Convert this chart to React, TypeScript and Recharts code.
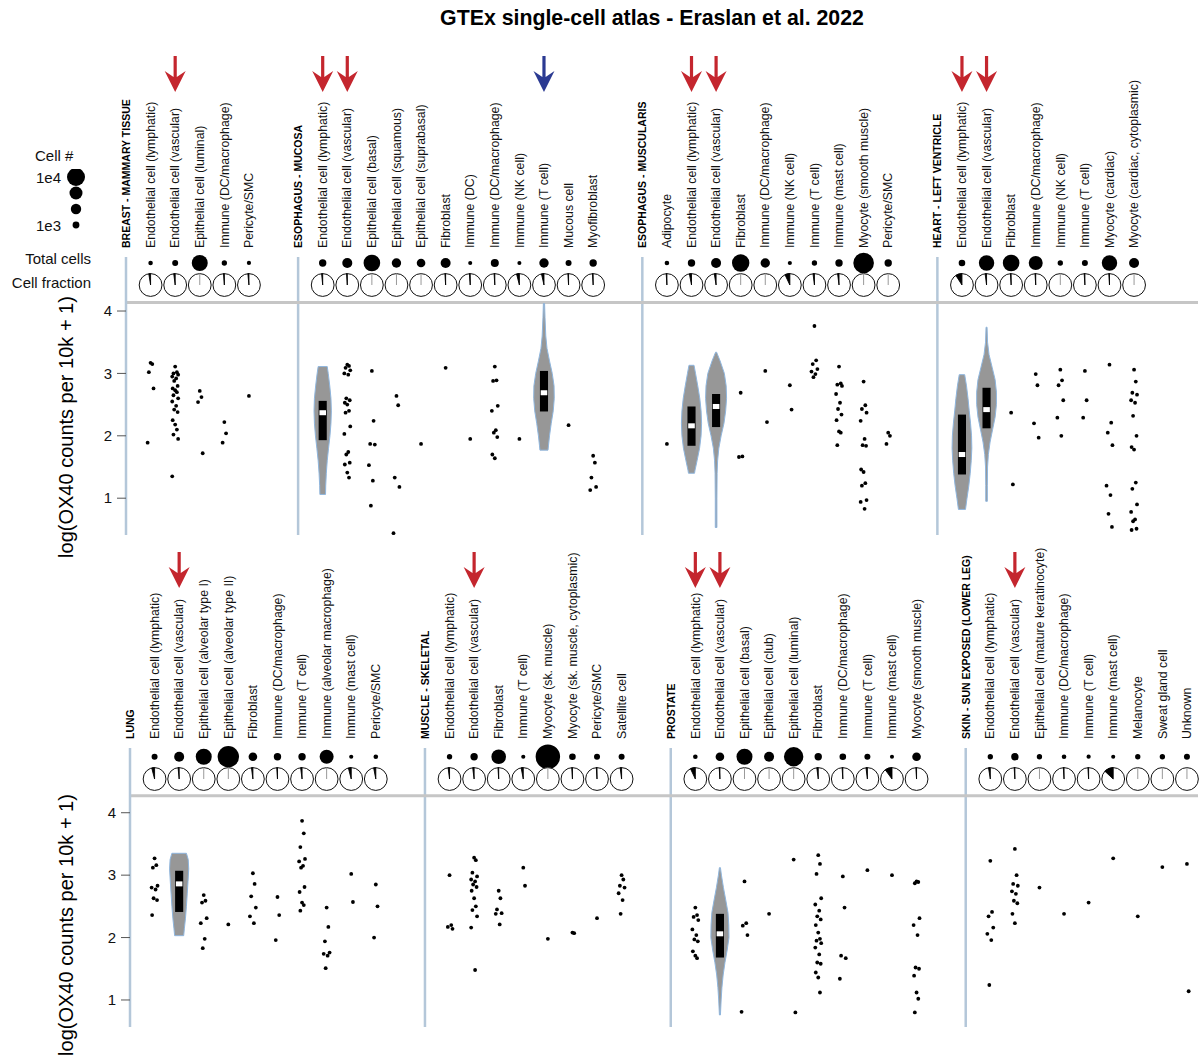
import React from 'react';
import { ScatterChart, Scatter, XAxis, YAxis, ZAxis, ReferenceLine } from 'recharts';

const FONT = '"Liberation Sans", Arial, Helvetica, sans-serif';
const AXIS_BLUE = '#b4c7d9';
const RED = '#c4262e';
const BLUE = '#2b3a92';

// ---------------- Row 1 ----------------
const breastCells = ['Endothelial cell (lymphatic)', 'Endothelial cell (vascular)', 'Epithelial cell (luminal)', 'Immune (DC/macrophage)', 'Pericyte/SMC'];
const breastCounts = [150, 650, 7800, 400, 60];
const breastFractions = [0.025, 0.02, 0.004, 0.012, 0.015];
const breastArrows = ['', 'red', '', '', ''];
const breastValues = [
  [3.17, 3.15, 3.02, 2.76, 1.89],
  [3.11, 3.02, 3.0, 2.98, 2.95, 2.92, 2.88, 2.8, 2.76, 2.73, 2.7, 2.65, 2.6, 2.55, 2.48, 2.42, 2.38, 2.25, 2.18, 2.1, 2.02, 1.95, 1.35],
  [2.72, 2.62, 2.54, 1.72],
  [2.22, 2.04, 1.89],
  [2.64],
];

const mucosaCells = ['Endothelial cell (lymphatic)', 'Endothelial cell (vascular)', 'Epithelial cell (basal)', 'Epithelial cell (squamous)', 'Epithelial cell (suprabasal)', 'Fibroblast', 'Immune (DC)', 'Immune (DC/macrophage)', 'Immune (NK cell)', 'Immune (T cell)', 'Mucous cell', 'Myofibroblast'];
const mucosaCounts = [1250, 2730, 8500, 2350, 1900, 2730, 30, 1560, 20, 2350, 650, 1250];
const mucosaFractions = [0.015, 0.01, 0.003, 0.005, 0.005, 0.01, 0.012, 0.01, 0.04, 0.035, 0.01, 0.01];
const mucosaArrows = ['red', 'red', '', '', '', '', '', '', '', 'blue', '', ''];
const mucosaValues = [
  [],
  [3.14, 3.12, 3.09, 3.05, 3.0, 2.98, 2.6, 2.57, 2.53, 2.5, 2.4, 2.37, 2.15, 2.03, 1.74, 1.7, 1.57, 1.54, 1.41, 1.33],
  [3.04, 2.24, 1.87, 1.86, 1.53, 1.28, 0.88],
  [2.64, 2.49, 1.33, 1.18, 0.44],
  [1.87],
  [3.09],
  [1.95],
  [3.11, 2.89, 2.88, 2.48, 2.4, 2.09, 2.05, 1.98, 1.7, 1.64],
  [1.95],
  [],
  [2.17],
  [1.68, 1.57, 1.33, 1.18, 1.13],
];
const mucosaViolins = [
  { cell: 0, q1: 1.93, med: 2.37, q3: 2.56, profile: [[3.11, 0.45], [3.0, 0.55], [2.8, 0.7], [2.6, 0.82], [2.4, 0.86], [2.2, 0.82], [2.0, 0.72], [1.8, 0.58], [1.6, 0.45], [1.4, 0.36], [1.2, 0.3], [1.06, 0.28]] },
  { cell: 9, q1: 2.39, med: 2.69, q3: 3.04, profile: [[4.12, 0.06], [3.9, 0.1], [3.6, 0.18], [3.4, 0.3], [3.2, 0.55], [3.0, 0.82], [2.8, 1.0], [2.6, 1.02], [2.4, 0.92], [2.2, 0.72], [2.0, 0.55], [1.85, 0.45], [1.77, 0.4]] },
];

const muscularisCells = ['Adipocyte', 'Endothelial cell (lymphatic)', 'Endothelial cell (vascular)', 'Fibroblast', 'Immune (DC/macrophage)', 'Immune (NK cell)', 'Immune (T cell)', 'Immune (mast cell)', 'Myocyte (smooth muscle)', 'Pericyte/SMC'];
const muscularisCounts = [170, 1250, 2730, 9300, 2350, 40, 400, 1250, 13300, 1250];
const muscularisFractions = [0.01, 0.03, 0.025, 0.003, 0.006, 0.07, 0.02, 0.02, 0.003, 0.006];
const muscularisArrows = ['', 'red', 'red', '', '', '', '', '', '', ''];
const muscularisValues = [
  [1.87],
  [],
  [],
  [2.69, 1.67, 1.66],
  [3.04, 2.22],
  [2.81, 2.42],
  [3.76, 3.21, 3.15, 3.07, 3.03, 2.99, 2.94],
  [3.11, 2.84, 2.82, 2.8, 2.67, 2.53, 2.43, 2.34, 2.25, 2.07, 2.05, 1.85],
  [2.87, 2.49, 2.43, 2.37, 2.24, 1.95, 1.85, 1.84, 1.46, 1.42, 1.24, 1.2, 0.97, 0.94, 0.83],
  [2.05, 2.0, 1.87],
];
const muscularisViolins = [
  { cell: 1, q1: 1.84, med: 2.16, q3: 2.47, profile: [[3.13, 0.25], [3.0, 0.4], [2.8, 0.62], [2.6, 0.82], [2.4, 0.95], [2.2, 1.0], [2.0, 0.95], [1.8, 0.8], [1.6, 0.55], [1.45, 0.35], [1.4, 0.3]] },
  { cell: 2, q1: 2.14, med: 2.47, q3: 2.67, profile: [[3.34, 0.05], [3.2, 0.4], [3.0, 0.82], [2.8, 1.0], [2.6, 1.04], [2.4, 0.95], [2.2, 0.78], [2.0, 0.5], [1.8, 0.27], [1.6, 0.15], [1.4, 0.1], [1.0, 0.08], [0.53, 0.08]] },
];

const heartCells = ['Endothelial cell (lymphatic)', 'Endothelial cell (vascular)', 'Fibroblast', 'Immune (DC/macrophage)', 'Immune (NK cell)', 'Immune (T cell)', 'Myocyte (cardiac)', 'Myocyte (cardiac, cytoplasmic)'];
const heartCounts = [900, 7200, 8500, 5850, 400, 650, 7200, 2730];
const heartFractions = [0.09, 0.02, 0.01, 0.01, 0.006, 0.01, 0.01, 0.006];
const heartArrows = ['red', 'red', '', '', '', '', '', ''];
const heartValues = [
  [],
  [],
  [2.37, 1.22],
  [2.99, 2.81, 2.2, 1.97],
  [3.06, 2.89, 2.81, 2.57, 2.29, 2.0],
  [3.04, 2.57, 2.29],
  [3.14, 2.21, 2.05, 1.85, 1.2, 1.05, 0.75, 0.54],
  [3.06, 2.87, 2.69, 2.66, 2.57, 2.53, 2.32, 2.0, 1.82, 1.78, 1.25, 1.15, 0.9, 0.78, 0.66, 0.63, 0.51, 0.49],
];
const heartViolins = [
  { cell: 0, q1: 1.38, med: 1.7, q3: 2.34, profile: [[2.98, 0.27], [2.8, 0.45], [2.6, 0.6], [2.4, 0.72], [2.2, 0.85], [2.0, 0.95], [1.8, 0.98], [1.6, 0.92], [1.4, 0.82], [1.2, 0.68], [1.0, 0.5], [0.82, 0.35]] },
  { cell: 1, q1: 2.12, med: 2.42, q3: 2.77, profile: [[3.74, 0.05], [3.5, 0.1], [3.3, 0.25], [3.1, 0.55], [2.9, 0.85], [2.7, 0.98], [2.5, 0.98], [2.3, 0.85], [2.1, 0.6], [1.9, 0.35], [1.7, 0.18], [1.5, 0.1], [1.2, 0.08], [0.95, 0.08]] },
];

// ---------------- Row 2 ----------------
const lungCells = ['Endothelial cell (lymphatic)', 'Endothelial cell (vascular)', 'Epithelial cell (alveolar type I)', 'Epithelial cell (alveolar type II)', 'Fibroblast', 'Immune (DC/macrophage)', 'Immune (T cell)', 'Immune (alveolar macrophage)', 'Immune (mast cell)', 'Pericyte/SMC'];
const lungCounts = [650, 2730, 7800, 14400, 1900, 1250, 1250, 5850, 40, 170];
const lungFractions = [0.04, 0.015, 0.005, 0.003, 0.02, 0.01, 0.02, 0.005, 0.04, 0.03];
const lungArrows = ['', 'red', '', '', '', '', '', '', '', ''];
const lungValues = [
  [3.27, 3.16, 3.12, 2.83, 2.8, 2.77, 2.63, 2.6, 2.36],
  [],
  [2.68, 2.59, 2.56, 2.31, 2.23, 1.98, 1.83],
  [2.21],
  [3.03, 2.86, 2.66, 2.48, 2.34, 2.23],
  [2.65, 2.36, 1.96],
  [3.87, 3.67, 3.45, 3.26, 3.22, 3.15, 3.12, 2.81, 2.73, 2.56, 2.52, 2.43],
  [2.48, 2.17, 1.94, 1.76, 1.74, 1.71, 1.51],
  [3.02, 2.57],
  [2.85, 2.5, 2.0],
];
const lungViolins = [
  { cell: 1, q1: 2.41, med: 2.86, q3: 3.07, profile: [[3.35, 0.72], [3.25, 0.9], [3.1, 0.95], [2.9, 0.88], [2.7, 0.8], [2.5, 0.72], [2.3, 0.62], [2.15, 0.52], [2.03, 0.45]] },
];

const muscleCells = ['Endothelial cell (lymphatic)', 'Endothelial cell (vascular)', 'Fibroblast', 'Immune (T cell)', 'Myocyte (sk. muscle)', 'Myocyte (sk. muscle, cytoplasmic)', 'Pericyte/SMC', 'Satellite cell'];
const muscleCounts = [400, 1250, 6400, 40, 19000, 900, 650, 650];
const muscleFractions = [0.02, 0.02, 0.01, 0.03, 0.003, 0.01, 0.01, 0.02];
const muscleArrows = ['', 'red', '', '', '', '', '', ''];
const muscleValues = [
  [3.0, 2.2, 2.17, 2.14],
  [3.28, 3.24, 3.04, 2.98, 2.93, 2.9, 2.85, 2.81, 2.75, 2.63, 2.5, 2.44, 2.34, 2.16, 1.48],
  [2.75, 2.63, 2.45, 2.39, 2.38, 2.21],
  [3.12, 2.83],
  [1.98],
  [2.08, 2.07],
  [2.31],
  [3.0, 2.93, 2.83, 2.8, 2.71, 2.6, 2.38],
];

const prostateCells = ['Endothelial cell (lymphatic)', 'Endothelial cell (vascular)', 'Epithelial cell (basal)', 'Epithelial cell (club)', 'Epithelial cell (luminal)', 'Fibroblast', 'Immune (DC/macrophage)', 'Immune (T cell)', 'Immune (mast cell)', 'Myocyte (smooth muscle)'];
const prostateCounts = [170, 1900, 7800, 2730, 11700, 1250, 900, 650, 20, 1900];
const prostateFractions = [0.07, 0.01, 0.003, 0.003, 0.003, 0.02, 0.01, 0.02, 0.1, 0.01];
const prostateArrows = ['red', 'red', '', '', '', '', '', '', '', ''];
const prostateValues = [
  [2.48, 2.36, 2.33, 2.28, 2.13, 2.04, 1.97, 1.94, 1.78, 1.71, 1.67],
  [],
  [2.9, 2.23, 2.19, 2.04, 0.81],
  [2.38],
  [3.25, 0.8],
  [3.32, 3.18, 3.02, 2.63, 2.53, 2.43, 2.34, 2.29, 2.2, 2.08, 1.98, 1.95, 1.91, 1.84, 1.73, 1.6, 1.58, 1.44, 1.36, 1.12],
  [2.98, 2.48, 1.71, 1.67, 1.34],
  [3.08],
  [3.0],
  [2.9, 2.89, 2.87, 2.31, 2.2, 2.04, 1.52, 1.5, 1.39, 1.12, 1.02, 0.8],
];
const prostateViolins = [
  { cell: 1, q1: 1.68, med: 2.06, q3: 2.38, profile: [[3.12, 0.05], [3.0, 0.15], [2.8, 0.35], [2.6, 0.58], [2.4, 0.8], [2.2, 0.88], [2.0, 0.9], [1.8, 0.72], [1.6, 0.5], [1.4, 0.32], [1.2, 0.2], [1.0, 0.12], [0.76, 0.05]] },
];

const skinCells = ['Endothelial cell (lymphatic)', 'Endothelial cell (vascular)', 'Epithelial cell (mature keratinocyte)', 'Immune (DC/macrophage)', 'Immune (T cell)', 'Immune (mast cell)', 'Melanocyte', 'Sweat gland cell', 'Unknown'];
const skinCounts = [400, 1250, 400, 170, 60, 20, 400, 400, 650];
const skinFractions = [0.025, 0.01, 0.004, 0.01, 0.01, 0.13, 0.005, 0.004, 0.004];
const skinArrows = ['', 'red', '', '', '', '', '', '', ''];
const skinValues = [
  [3.23, 2.41, 2.34, 2.16, 2.06, 1.96, 1.24],
  [3.42, 3.0, 2.86, 2.83, 2.74, 2.7, 2.59, 2.55, 2.38, 2.23],
  [2.8],
  [2.38],
  [2.56],
  [3.27],
  [2.34],
  [3.13],
  [3.18, 1.14],
];

const legendCounts = [10000, 5000, 3000, 1000];
const yTickValues = [1, 2, 3, 4];

// ---------------- Assembly ----------------
type Violin = { cell: number; q1: number; med: number; q3: number; profile: number[][] };
type Panel = { title: string; start: number; cells: string[]; counts: number[]; fractions: number[]; arrows: string[]; values: number[][]; violins: Violin[] };

const row1Panels: Panel[] = [
  { title: 'BREAST - MAMMARY TISSUE', start: 0, cells: breastCells, counts: breastCounts, fractions: breastFractions, arrows: breastArrows, values: breastValues, violins: [] },
  { title: 'ESOPHAGUS - MUCOSA', start: 7, cells: mucosaCells, counts: mucosaCounts, fractions: mucosaFractions, arrows: mucosaArrows, values: mucosaValues, violins: mucosaViolins },
  { title: 'ESOPHAGUS - MUSCULARIS', start: 21, cells: muscularisCells, counts: muscularisCounts, fractions: muscularisFractions, arrows: muscularisArrows, values: muscularisValues, violins: muscularisViolins },
  { title: 'HEART - LEFT VENTRICLE', start: 33, cells: heartCells, counts: heartCounts, fractions: heartFractions, arrows: heartArrows, values: heartValues, violins: heartViolins },
];
const row2Panels: Panel[] = [
  { title: 'LUNG', start: 0, cells: lungCells, counts: lungCounts, fractions: lungFractions, arrows: lungArrows, values: lungValues, violins: lungViolins },
  { title: 'MUSCLE - SKELETAL', start: 12, cells: muscleCells, counts: muscleCounts, fractions: muscleFractions, arrows: muscleArrows, values: muscleValues, violins: [] },
  { title: 'PROSTATE', start: 22, cells: prostateCells, counts: prostateCounts, fractions: prostateFractions, arrows: prostateArrows, values: prostateValues, violins: prostateViolins },
  { title: 'SKIN - SUN EXPOSED (LOWER LEG)', start: 34, cells: skinCells, counts: skinCounts, fractions: skinFractions, arrows: skinArrows, values: skinValues, violins: [] },
];

const JITTER = [0, 0.07, -0.07, 0.12, -0.12, 0.04, -0.04, 0.1, -0.1];
const VIOLIN_HALF = 0.41;
const BOX_HALF = 0.165;

type TickInfo = { text: string; bold?: boolean; arrow?: string };

function buildRow(panels: Panel[], dotY: number, pieY: number) {
  const dots: any[] = [];
  const pies: any[] = [];
  const strips: any[] = [];
  const ticks: number[] = [];
  const info = new Map<number, TickInfo>();
  const violins: any[][] = [];
  const boxes: any[][] = [];
  const medians: any[] = [];
  panels.forEach((p) => {
    ticks.push(p.start);
    info.set(p.start, { text: p.title, bold: true });
    p.cells.forEach((c, i) => {
      const x = p.start + 1 + i;
      ticks.push(x);
      info.set(x, { text: c, arrow: p.arrows[i] });
      dots.push({ x, y: dotY, z: p.counts[i] });
      pies.push({ x, y: pieY, f: p.fractions[i] });
      p.values[i].forEach((v, k) => strips.push({ x: x + JITTER[k % JITTER.length], y: v }));
    });
    p.violins.forEach((vl) => {
      const x = p.start + 1 + vl.cell;
      const left = vl.profile.map(([v, d]) => ({ x: x - d * VIOLIN_HALF, y: v }));
      const right = [...vl.profile].reverse().map(([v, d]) => ({ x: x + d * VIOLIN_HALF, y: v }));
      violins.push([...left, ...right, left[0]]);
      boxes.push([
        { x: x - BOX_HALF, y: vl.q1 }, { x: x + BOX_HALF, y: vl.q1 },
        { x: x + BOX_HALF, y: vl.q3 }, { x: x - BOX_HALF, y: vl.q3 }, { x: x - BOX_HALF, y: vl.q1 },
      ]);
      medians.push({ x, y: vl.med });
    });
  });
  return { dots, pies, strips, ticks, info, violins, boxes, medians, seps: panels.map((p) => p.start).filter((s) => s > 0) };
}

const Empty = () => <g />;
const StripDot = (p: any) => <circle cx={p.cx} cy={p.cy} r={1.9} fill="#000" />;
const MedianMark = (p: any) => <rect x={p.cx - 3.3} y={p.cy - 2.5} width={6.6} height={5} fill="#fff" />;
const PIE_R = 11.4;
const PieMark = (p: any) => {
  const { cx, cy, payload } = p;
  const f = payload.f;
  const a = f * 2 * Math.PI;
  const ex = cx - PIE_R * Math.sin(a);
  const ey = cy - PIE_R * Math.cos(a);
  return (
    <g>
      <circle cx={cx} cy={cy} r={PIE_R} fill="#fff" stroke="#111" strokeWidth={1} />
      {f >= 0.008 ? (
        <path d={`M${cx},${cy} L${cx},${cy - PIE_R} A${PIE_R},${PIE_R} 0 ${a > Math.PI ? 1 : 0} 0 ${ex},${ey} Z`} fill="#000" stroke="#000" strokeWidth={0.9} />
      ) : (
        <line x1={cx} y1={cy} x2={cx} y2={cy - PIE_R} stroke="#999" strokeWidth={1} />
      )}
    </g>
  );
};

const arrowPath = (x: number, t: number) =>
  `M${x - 1.6},${t - 36} L${x + 1.6},${t - 36} L${x + 1.6},${t - 15} L${x + 10.5},${t - 21} L${x},${t} L${x - 10.5},${t - 21} L${x - 1.6},${t - 15} Z`;

const makeXTick = (info: Map<number, TickInfo>, arrowTip: number) => (props: any) => {
  const { x, y, payload } = props;
  const item = info.get(payload.value);
  if (!item) return <g />;
  if (item.bold) {
    const bx = x + 3.8;
    return (
      <text x={bx} y={y} transform={`rotate(-90 ${bx} ${y})`} textAnchor="start" fontSize={10.5} fontWeight="bold" fontFamily={FONT} fill="#000">
        {item.text}
      </text>
    );
  }
  const bx = x + 4.2;
  return (
    <g>
      <text x={bx} y={y} transform={`rotate(-90 ${bx} ${y})`} textAnchor="start" fontSize={12.3} fontFamily={FONT} fill="#111">
        {item.text}
      </text>
      {item.arrow ? <path d={arrowPath(x, arrowTip)} fill={item.arrow === 'blue' ? BLUE : RED} /> : null}
    </g>
  );
};

type Extra = { v: number; text: string; dy: number };
const makeYTick = (extras: Extra[]) => (props: any) => {
  const { x, y, payload } = props;
  const v = payload.value;
  const lab = extras.find((e) => Math.abs(e.v - v) < 1e-6);
  if (lab) {
    return (
      <text x={x - 35} y={y + lab.dy} textAnchor="end" fontSize={15} fontFamily={FONT} fill="#111">
        {lab.text}
      </text>
    );
  }
  return (
    <g>
      <line x1={x - 9} x2={x} y1={y} y2={y} stroke="#555" strokeWidth={1} />
      <text x={x - 14} y={y + 5.3} textAnchor="end" fontSize={15} fontFamily={FONT} fill="#111">
        {v}
      </text>
    </g>
  );
};

type RowCfg = {
  panels: Panel[]; domainX: number[]; domainY: number[]; dotY: number; pieY: number; lineY: number;
  arrowTip: number; top: number; height: number; margin: any; extras: Extra[];
};

const rows: RowCfg[] = [
  {
    panels: row1Panels, domainX: [0, 43.6], domainY: [0.41, 4.866], dotY: 4.77, pieY: 4.417, lineY: 4.135,
    arrowTip: 92, top: 0, height: 545, margin: { top: 227, right: 5, bottom: 10, left: 66 },
    extras: [{ v: 4.77, text: 'Total cells', dy: 1 }, { v: 4.417, text: 'Cell fraction', dy: 2.5 }],
  },
  {
    panels: row2Panels, domainX: [0, 43.45], domainY: [0.567, 5.037], dotY: 4.897, pieY: 4.54, lineY: 4.27,
    arrowTip: 48, top: 540, height: 516, margin: { top: 178, right: 5, bottom: 29, left: 70 },
    extras: [],
  },
];

function RowChart({ row }: { row: RowCfg }) {
  const b = buildRow(row.panels, row.dotY, row.pieY);
  const yTicks = [...yTickValues, ...row.extras.map((e) => e.v)];
  return (
    <div style={{ position: 'absolute', left: 0, top: row.top }}>
      <ScatterChart width={1203} height={row.height} margin={row.margin}>
        <XAxis type="number" dataKey="x" domain={row.domainX} orientation="top" height={30} ticks={b.ticks} interval={0}
          axisLine={false} tickLine={false} tickSize={0} tickMargin={9} tick={makeXTick(b.info, row.arrowTip)} />
        <YAxis type="number" dataKey="y" domain={row.domainY} width={60} ticks={yTicks} interval={0}
          axisLine={{ stroke: AXIS_BLUE, strokeWidth: 2.5 }} tickLine={false} tickSize={0} tickMargin={0} tick={makeYTick(row.extras)} />
        <ZAxis type="number" dataKey="z" domain={[0, 25000]} range={[12.6, 616]} />
        {b.seps.map((s) => (
          <ReferenceLine key={'sep' + s} x={s} stroke={AXIS_BLUE} strokeWidth={2.5} />
        ))}
        <ReferenceLine y={row.lineY} stroke="#c6c6c6" strokeWidth={3} />
        {b.violins.map((poly, i) => (
          <Scatter key={'vio' + i} data={poly} line={{ stroke: '#8fb6de', strokeWidth: 1, fill: '#979797' }} lineType="joint" shape={Empty} isAnimationActive={false} />
        ))}
        {b.boxes.map((poly, i) => (
          <Scatter key={'box' + i} data={poly} line={{ stroke: 'none', fill: '#000' }} lineType="joint" shape={Empty} isAnimationActive={false} />
        ))}
        <Scatter data={b.medians} shape={MedianMark} isAnimationActive={false} />
        <Scatter data={b.strips} shape={StripDot} isAnimationActive={false} />
        <Scatter data={b.dots} fill="#000" shape="circle" isAnimationActive={false} />
        <Scatter data={b.pies} shape={PieMark} isAnimationActive={false} />
      </ScatterChart>
    </div>
  );
}

function LegendChart() {
  const data = legendCounts.map((c, i) => ({ x: 0.5, y: legendCounts.length - 1 - i, z: c }));
  return (
    <div style={{ position: 'absolute', left: 56, top: 169 }}>
      <ScatterChart width={40} height={64} margin={{ top: 0, right: 0, bottom: 0, left: 0 }}>
        <XAxis type="number" dataKey="x" domain={[0, 1]} hide />
        <YAxis type="number" dataKey="y" domain={[-0.5, 3.5]} hide />
        <ZAxis type="number" dataKey="z" domain={[0, 25000]} range={[12.6, 616]} />
        <Scatter data={data} fill="#000" shape="circle" isAnimationActive={false} />
      </ScatterChart>
    </div>
  );
}

export default function App() {
  return (
    <div style={{ position: 'absolute', left: 0, top: 0, width: 1203, height: 1056, background: '#fff', fontFamily: FONT }}>
      <svg width={1203} height={1056} style={{ position: 'absolute', left: 0, top: 0 }}>
        <text x={652} y={25} textAnchor="middle" fontSize={21.3} fontWeight="bold" fontFamily={FONT} fill="#000">
          GTEx single-cell atlas - Eraslan et al. 2022
        </text>
        <text x={73.3} y={427} transform="rotate(-90 73.3 427)" textAnchor="middle" fontSize={20} fontFamily={FONT} fill="#000">
          log(OX40 counts per 10k + 1)
        </text>
        <text x={73.3} y={925} transform="rotate(-90 73.3 925)" textAnchor="middle" fontSize={20} fontFamily={FONT} fill="#000">
          log(OX40 counts per 10k + 1)
        </text>
        <text x={35} y={160.5} fontSize={15} fontFamily={FONT} fill="#111">Cell #</text>
        <text x={36} y={182.5} fontSize={15} fontFamily={FONT} fill="#111">1e4</text>
        <text x={36} y={230.5} fontSize={15} fontFamily={FONT} fill="#111">1e3</text>
      </svg>
      {rows.map((r, i) => (
        <RowChart key={i} row={r} />
      ))}
      <LegendChart />
    </div>
  );
}
